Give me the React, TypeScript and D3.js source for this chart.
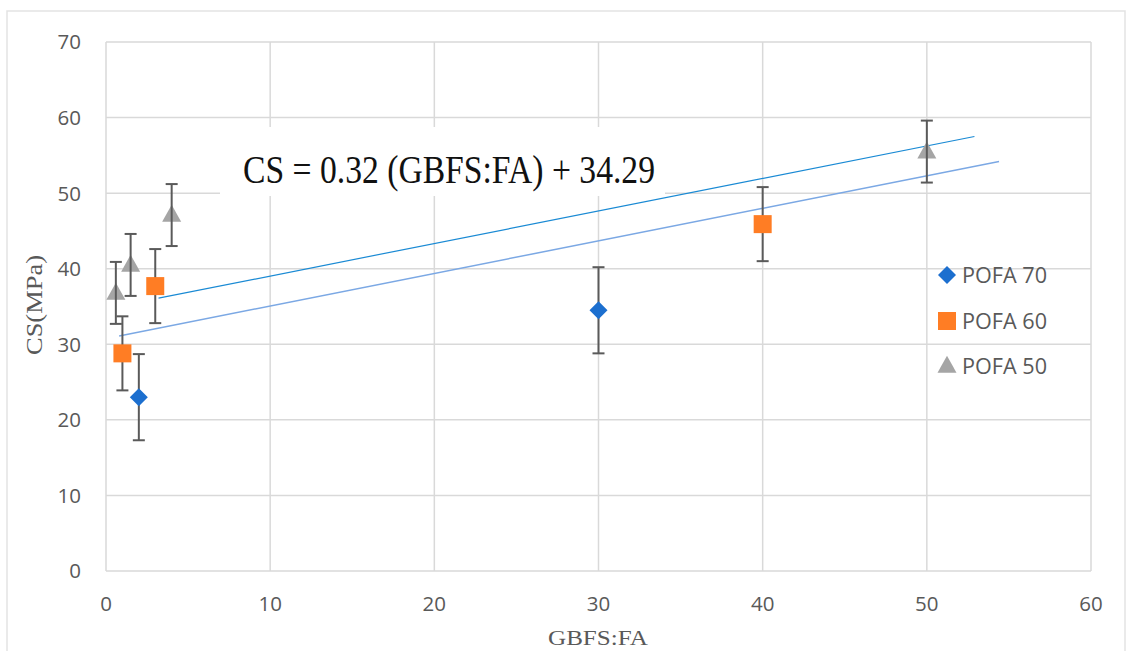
import React from "react";
import * as d3 from "d3";

const xTicks = [0, 10, 20, 30, 40, 50, 60];
const yTicks = [0, 10, 20, 30, 40, 50, 60, 70];

const pofa70X = [2, 30];
const pofa70Y = [23.0, 34.5];
const pofa70Err = [5.7, 5.7];

const pofa60X = [1, 3, 40];
const pofa60Y = [28.8, 37.7, 45.9];
const pofa60Err = [4.9, 4.9, 4.9];

const pofa50X = [0.6, 1.5, 4, 50];
const pofa50Y = [36.8, 40.5, 47.1, 55.5];
const pofa50Err = [4.1, 4.1, 4.1, 4.1];

const trendUpperX = [3.2, 52.9];
const trendUpperY = [36.1, 57.5];
const trendLowerX = [0.8, 54.4];
const trendLowerY = [31.1, 54.2];

const legendLabels = ["POFA 70", "POFA 60", "POFA 50"];
const equation = "CS = 0.32 (GBFS:FA) + 34.29";
const xTitle = "GBFS:FA";
const yTitle = "CS(MPa)";

const W = 1127;
const H = 651;
const left = 106;
const right = 1091;
const top = 42;
const bottom = 571;

const BLUE = "#1c6fcf";
const ORANGE = "#ff7d24";
const GRAY = "#a5a5a5";
const ERR = "#5a5a5a";
const GRID = "#d9d9d9";
const TXT = "#595959";

type Shape = "diamond" | "square" | "triangle";

function Marker({ shape, x, y }: { shape: Shape; x: number; y: number }) {
  if (shape === "diamond") {
    const r = 9;
    return (
      <path
        d={`M${x},${y - r}L${x + r},${y}L${x},${y + r}L${x - r},${y}Z`}
        fill={BLUE}
      />
    );
  }
  if (shape === "square") {
    const s = 18;
    return <rect x={x - s / 2} y={y - s / 2} width={s} height={s} fill={ORANGE} />;
  }
  const w = 19;
  const h = 17;
  return (
    <path
      d={`M${x},${y - h * 0.6}L${x + w / 2},${y + h * 0.4}L${x - w / 2},${y + h * 0.4}Z`}
      fill={GRAY}
    />
  );
}

export default function App() {
  const x = d3.scaleLinear().domain([0, 60]).range([left, right]);
  const y = d3.scaleLinear().domain([0, 70]).range([bottom, top]);
  const line = d3
    .line<[number, number]>()
    .x((d) => x(d[0]))
    .y((d) => y(d[1]));

  const errBars = (xs: number[], ys: number[], es: number[], key: string) =>
    xs.map((xv, i) => {
      const cx = x(xv);
      const y1 = y(ys[i] + es[i]);
      const y2 = y(ys[i] - es[i]);
      return (
        <g key={key + i} stroke={ERR} strokeWidth={2}>
          <line x1={cx} x2={cx} y1={y1} y2={y2} />
          <line x1={cx - 6} x2={cx + 6} y1={y1} y2={y1} />
          <line x1={cx - 6} x2={cx + 6} y1={y2} y2={y2} />
        </g>
      );
    });

  const markers = (xs: number[], ys: number[], shape: Shape, key: string) =>
    xs.map((xv, i) => <Marker key={key + i} shape={shape} x={x(xv)} y={y(ys[i])} />);

  const legendShapes: Shape[] = ["diamond", "square", "triangle"];
  const legendY = [275, 321, 366];

  return (
    <div style={{ position: "fixed", left: 0, top: 0 }}>
      <svg width={W} height={H} style={{ display: "block", background: "#fff" }}>
        <rect x={7} y={11} width={1118} height={660} fill="#fff" stroke="#e3e3e3" strokeWidth={1.5} />
        {xTicks.map((t) => (
          <line key={"gx" + t} x1={x(t)} x2={x(t)} y1={top} y2={bottom} stroke={GRID} strokeWidth={1.5} />
        ))}
        {yTicks.map((t) => (
          <line key={"gy" + t} x1={left} x2={right} y1={y(t)} y2={y(t)} stroke={GRID} strokeWidth={1.5} />
        ))}
        {yTicks.map((t) => (
          <text
            key={"ty" + t}
            x={81}
            y={y(t)}
            dy="0.36em"
            textAnchor="end"
            fontFamily="'Open Sans', sans-serif"
            fontSize={20.5}
            fill={TXT}
          >
            {t}
          </text>
        ))}
        {xTicks.map((t) => (
          <text
            key={"tx" + t}
            x={x(t)}
            y={611}
            textAnchor="middle"
            fontFamily="'Open Sans', sans-serif"
            fontSize={20.5}
            fill={TXT}
          >
            {t}
          </text>
        ))}
        <rect x={220} y={127} width={445} height={69} fill="#fff" />
        <text
          x={243}
          y={183}
          fontFamily="'Liberation Serif', 'Times New Roman', serif"
          fontSize={39}
          textLength={412}
          lengthAdjust="spacingAndGlyphs"
          fill="#111"
        >
          {equation}
        </text>
        <path
          d={line(trendLowerX.map((v, i) => [v, trendLowerY[i]]) as [number, number][]) || ""}
          fill="none"
          stroke="#7ba8e4"
          strokeWidth={1.5}
        />
        <path
          d={line(trendUpperX.map((v, i) => [v, trendUpperY[i]]) as [number, number][]) || ""}
          fill="none"
          stroke="#1a8ad4"
          strokeWidth={1.2}
        />
        {errBars(pofa70X, pofa70Y, pofa70Err, "e70")}
        {markers(pofa70X, pofa70Y, "diamond", "m70")}
        {errBars(pofa60X, pofa60Y, pofa60Err, "e60")}
        {markers(pofa60X, pofa60Y, "square", "m60")}
        {markers(pofa50X, pofa50Y, "triangle", "m50")}
        {errBars(pofa50X, pofa50Y, pofa50Err, "e50")}
        {legendLabels.map((l, i) => (
          <g key={"lg" + i}>
            <Marker shape={legendShapes[i]} x={947} y={legendY[i]} />
            <text
              x={962}
              y={legendY[i]}
              dy="0.36em"
              fontFamily="'Open Sans', sans-serif"
              fontSize={21}
              textLength={85}
              lengthAdjust="spacingAndGlyphs"
              fill={TXT}
            >
              {l}
            </text>
          </g>
        ))}
        <text
          x={598}
          y={645}
          textAnchor="middle"
          fontFamily="'Liberation Serif', 'Times New Roman', serif"
          fontSize={22}
          textLength={100}
          lengthAdjust="spacingAndGlyphs"
          fill={TXT}
        >
          {xTitle}
        </text>
        <text
          transform={`translate(42,305) rotate(-90)`}
          textAnchor="middle"
          fontFamily="'Liberation Serif', 'Times New Roman', serif"
          fontSize={23}
          textLength={100}
          lengthAdjust="spacingAndGlyphs"
          fill={TXT}
        >
          {yTitle}
        </text>
      </svg>
    </div>
  );
}
